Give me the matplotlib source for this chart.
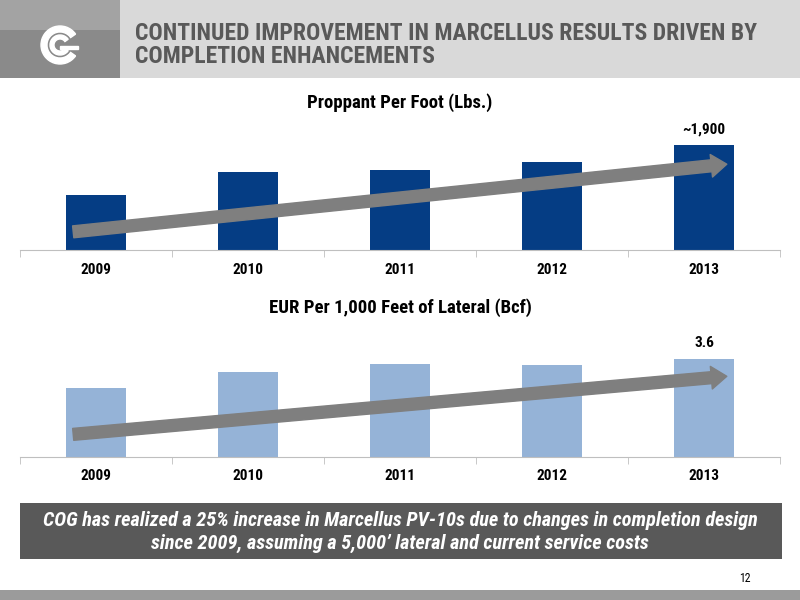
import matplotlib.pyplot as plt
from matplotlib.patches import Rectangle, Wedge

years = ["2009", "2010", "2011", "2012", "2013"]
proppant = [1000, 1410, 1450, 1600, 1900]
eur = [2.51, 3.11, 3.39, 3.35, 3.6]
proppant_label = "~1,900"
eur_label = "3.6"

title = "CONTINUED IMPROVEMENT IN MARCELLUS RESULTS DRIVEN BY\nCOMPLETION ENHANCEMENTS"
footer = ("COG has realized a 25% increase in Marcellus PV-10s due to changes in completion design\n"
          "since 2009, assuming a 5,000\u2019 lateral and current service costs")

NARROW = ["Roboto Condensed", "DejaVu Sans"]

fig = plt.figure(figsize=(8, 6), dpi=100)
W, H = 800, 600


def fx(px):
    return px / W


def fy(py):
    return 1 - py / H


# header band and textured logo block
fig.patches.append(Rectangle((fx(120), fy(78)), fx(680), 78 / H, transform=fig.transFigure,
                             facecolor="#d9d9d9", edgecolor="none"))
fig.patches.append(Rectangle((0, fy(78)), fx(120), 78 / H, transform=fig.transFigure,
                             facecolor="#8a8a8a", edgecolor="none"))
fig.patches.append(Rectangle((0, fy(30)), fx(120), 30 / H, transform=fig.transFigure,
                             facecolor="#a3a3a3", edgecolor="none"))
fig.patches.append(Rectangle((0, 0), 1, 10 / H, transform=fig.transFigure,
                             facecolor="#9b9b9b", edgecolor="none"))

logo_ax = fig.add_axes([fx(35), fy(70), fx(50), 50 / H], zorder=5)
logo_ax.set_xlim(0, 50)
logo_ax.set_ylim(0, 50)
logo_ax.set_aspect("equal")
logo_ax.axis("off")
logo_ax.add_patch(Wedge((25, 25), 19, 35, 325, width=6, color="white"))
logo_ax.add_patch(Wedge((25, 25), 10, 35, 325, width=4, color="white"))
logo_ax.add_patch(Rectangle((25, 21), 18, 3, color="white"))

fig.text(fx(135), fy(45), title, ha="left", va="center", fontsize=17, fontweight="bold",
         color="#595959", family=NARROW, linespacing=1.0)


def bar_panel(bottom_px, top_px, values, color, ymax, label, chart_title, title_px):
    ax = fig.add_axes([fx(20), fy(bottom_px), fx(760), (bottom_px - top_px) / H])
    x = list(range(len(years)))
    bars = ax.bar(x, values, width=0.4, color=color, zorder=2)
    ax.set_xlim(-0.5, len(years) - 0.5)
    ax.set_ylim(0, ymax)
    for s in ["top", "left", "right"]:
        ax.spines[s].set_visible(False)
    ax.spines["bottom"].set_color("#bfbfbf")
    ax.set_yticks([])
    ax.set_xticks(x)
    ax.set_xticklabels(years, fontsize=11, fontweight="bold", family=NARROW)
    ax.tick_params(axis="x", which="major", length=0, pad=9)
    ax.set_xticks([i - 0.5 for i in range(len(years) + 1)], minor=True)
    ax.tick_params(axis="x", which="minor", length=5, color="#bfbfbf")
    last = bars[-1]
    ax.annotate(label, (last.get_x() + last.get_width() / 2, last.get_height()),
                xytext=(0, 6), textcoords="offset points", ha="center", va="bottom",
                fontsize=11, fontweight="bold", family=NARROW)
    # trend arrow from the first bar to the last bar
    ax.annotate("", xy=(4.15, values[-1] * 0.82), xytext=(-0.15, values[0] * 0.33),
                arrowprops=dict(arrowstyle="simple,head_length=1.3,head_width=1.9,tail_width=1",
                                mutation_scale=8.6, color="#7f7f7f", shrinkA=0, shrinkB=0),
                zorder=3)
    fig.text(0.5, fy(title_px), chart_title, ha="center", va="center", fontsize=13.5,
             fontweight="bold", family=NARROW)
    return ax


bar_panel(250, 120, proppant, "#053d84", 2360, proppant_label, "Proppant Per Foot (Lbs.)", 103)
bar_panel(457, 330, eur, "#95b3d7", 4.646, eur_label, "EUR Per 1,000 Feet of Lateral (Bcf)", 308)

# footer box
fig.patches.append(Rectangle((fx(20), fy(559)), fx(762), 56 / H, transform=fig.transFigure,
                             facecolor="#595959", edgecolor="none"))
fig.text(0.5, fy(532), footer, ha="center", va="center", fontsize=14.6, fontweight="bold",
         fontstyle="italic", color="white", family=NARROW, linespacing=1.2)
fig.text(fx(745), fy(578), "12", ha="center", va="center", fontsize=8.5, family=NARROW)

fig.savefig("out.png", dpi=100)
